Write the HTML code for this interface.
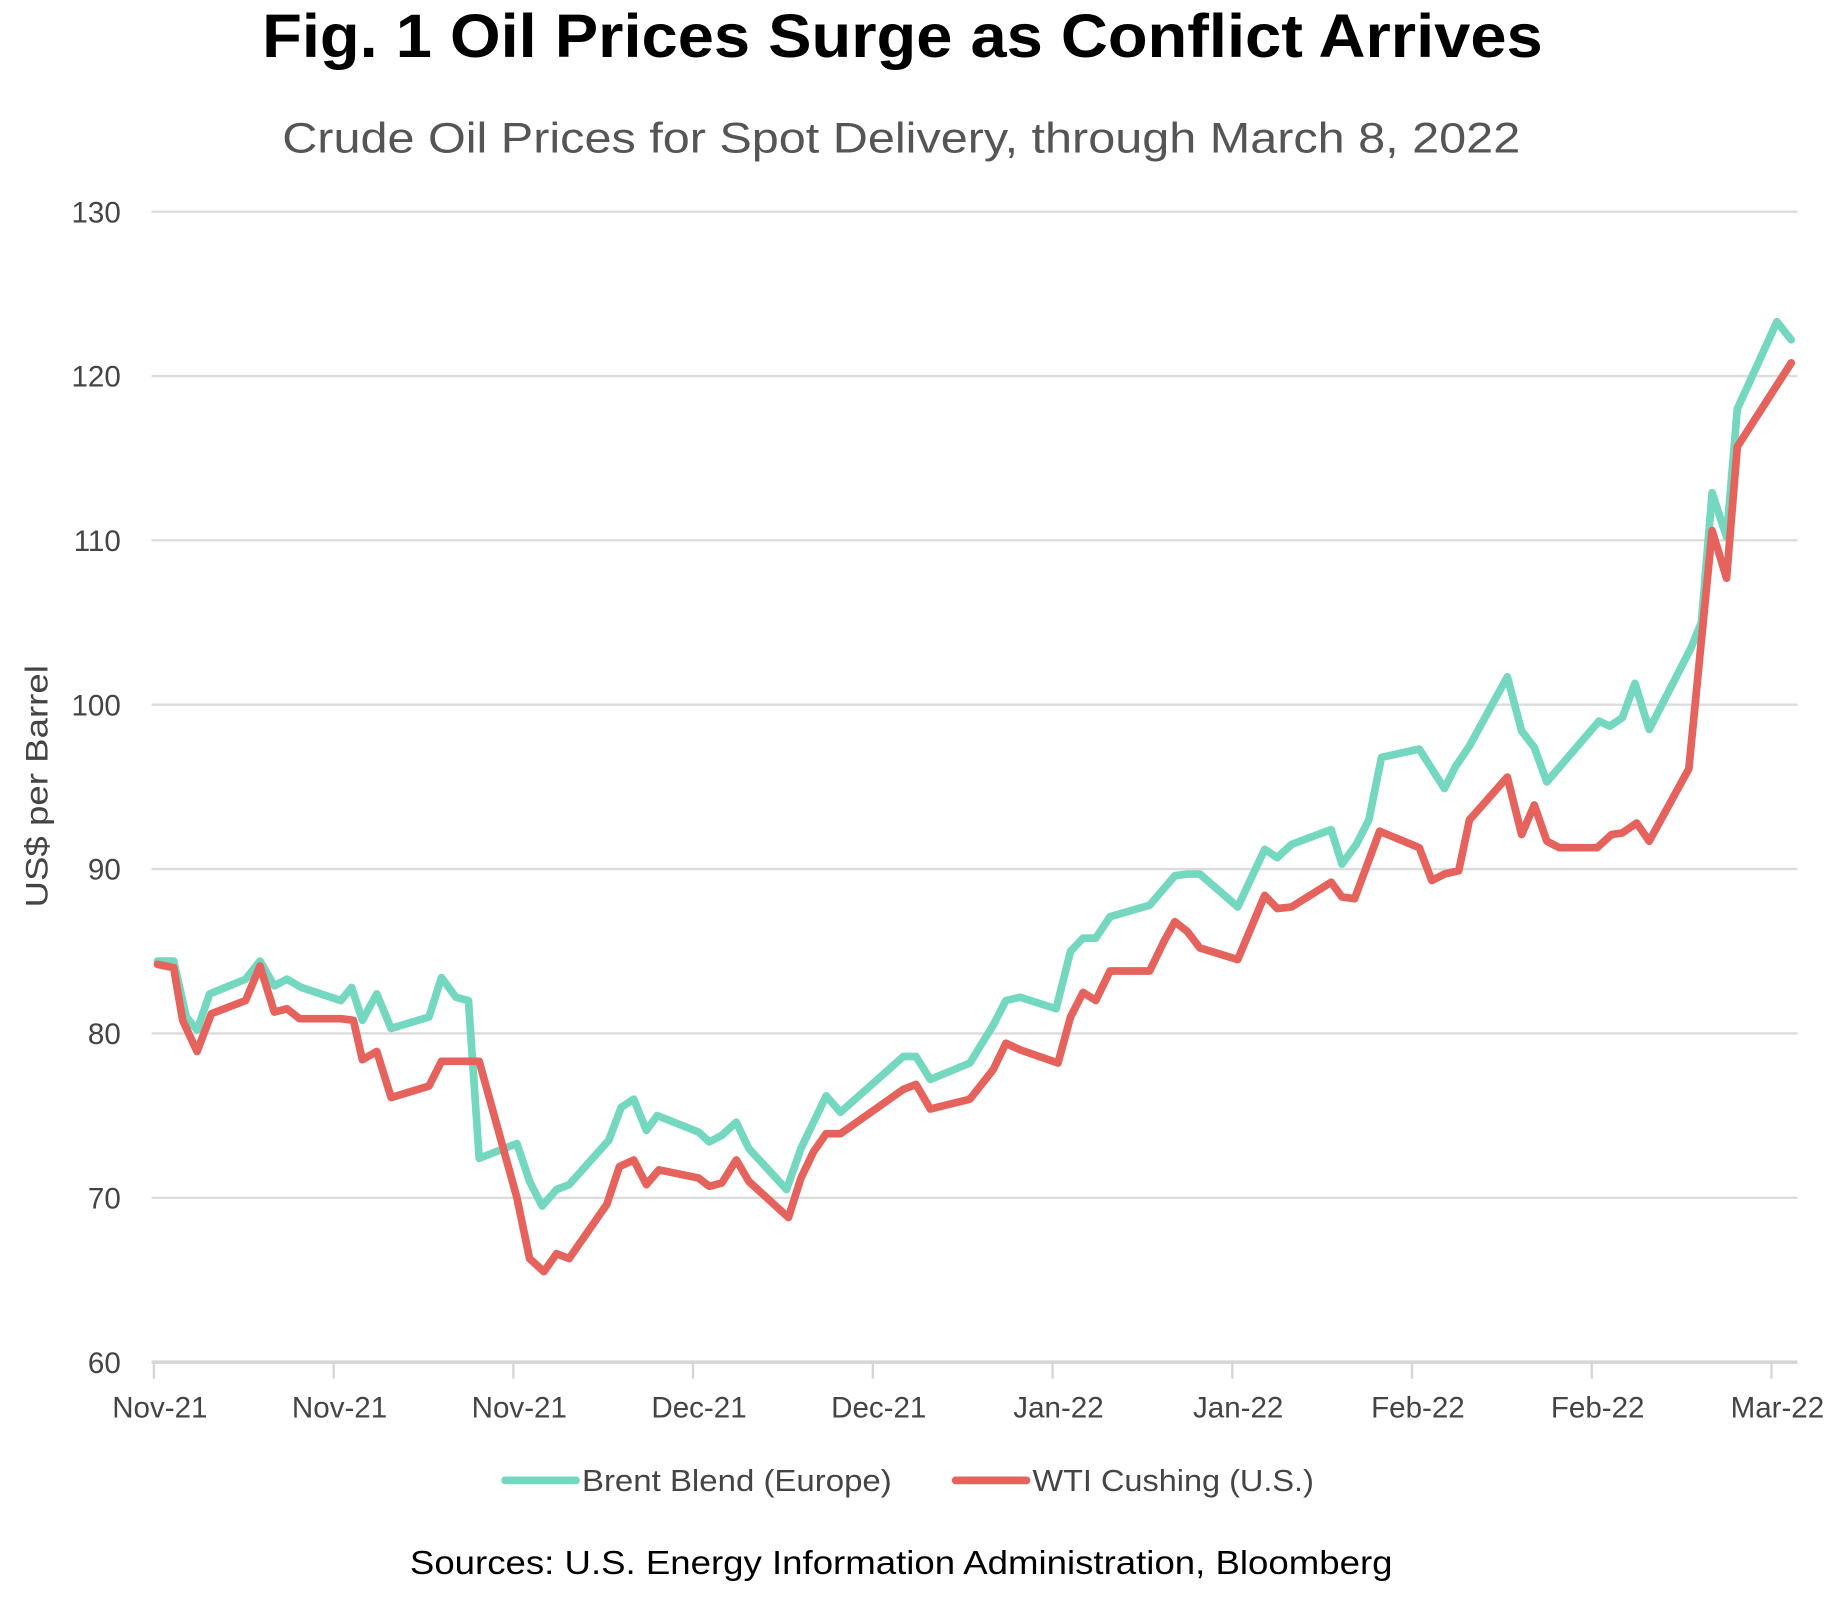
<!DOCTYPE html>
<html><head><meta charset="utf-8"><style>
html,body{margin:0;padding:0;background:#fff;}
svg{display:block;font-family:"Liberation Sans",sans-serif;}
</style></head><body>
<svg id="chart" width="1845" height="1601" viewBox="0 0 1560 1354" xmlns="http://www.w3.org/2000/svg">
<text x="763" y="48" text-anchor="middle" font-size="52" font-weight="bold" fill="#000" textLength="1083" lengthAdjust="spacingAndGlyphs">Fig. 1 Oil Prices Surge as Conflict Arrives</text>
<text x="762" y="129" text-anchor="middle" font-size="36" fill="#555" textLength="1047" lengthAdjust="spacingAndGlyphs">Crude Oil Prices for Spot Delivery, through March 8, 2022</text>
<text transform="translate(40,665) rotate(-90)" text-anchor="middle" font-size="27" fill="#444" textLength="205" lengthAdjust="spacingAndGlyphs">US$ per Barrel</text>
<g id="grid"></g><g id="yticks"></g><g id="xticks"></g><g id="series"></g>
<g>
<line x1="427" y1="1252" x2="487" y2="1252" stroke="#74d8c0" stroke-width="6.5" stroke-linecap="round"/>
<text x="492" y="1261" font-size="26" fill="#444" textLength="262" lengthAdjust="spacingAndGlyphs">Brent Blend (Europe)</text>
<line x1="808" y1="1252" x2="868" y2="1252" stroke="#e6625c" stroke-width="6.5" stroke-linecap="round"/>
<text x="873" y="1261" font-size="26" fill="#444" textLength="238" lengthAdjust="spacingAndGlyphs">WTI Cushing (U.S.)</text>
</g>
<text x="762" y="1331" text-anchor="middle" font-size="28" fill="#000" textLength="831" lengthAdjust="spacingAndGlyphs">Sources: U.S. Energy Information Administration, Bloomberg</text>
</svg>
<script>
const xTickLabels = ["Nov-21","Nov-21","Nov-21","Dec-21","Dec-21","Jan-22","Jan-22","Feb-22","Feb-22","Mar-22"];
const yTickValues = [60,70,80,90,100,110,120,130];
const brentT = [0.2,1.1,1.8,2.4,3.1,5.1,5.9,6.7,7.4,8.2,10.4,11.0,11.6,12.4,13.2,15.3,16.0,16.8,17.5,18.1,20.2,20.9,21.6,22.4,23.1,25.3,26.0,26.7,27.4,28.0,30.3,30.9,31.6,32.4,33.1,35.2,36.0,37.4,38.2,41.7,42.4,43.2,45.4,46.7,47.4,48.2,50.2,51.0,51.7,52.4,53.2,55.4,56.8,57.5,58.2,60.3,61.8,62.5,63.3,65.5,66.1,66.9,67.6,68.3,70.4,71.8,72.4,73.2,75.3,76.1,76.8,77.5,80.4,81.0,81.7,82.4,83.2,85.5,86.1,86.7,87.5,88.1,90.3,91.1];
const brentValues = [84.4,84.4,81,80.2,82.4,83.3,84.4,82.9,83.3,82.8,82,82.8,80.8,82.4,80.3,81,83.4,82.2,82,72.4,73.3,71,69.5,70.5,70.8,73.5,75.5,76,74.1,75,74,73.4,73.8,74.6,73,70.5,73,76.2,75.2,78.6,78.6,77.2,78.2,80.5,82,82.2,81.5,85,85.8,85.8,87.1,87.8,89.6,89.7,89.7,87.7,91.2,90.7,91.5,92.4,90.3,91.5,93,96.8,97.3,94.9,96.2,97.5,101.7,98.4,97.4,95.3,99,98.7,99.2,101.3,98.5,103.4,105,112.9,110.2,118,123.3,122.2];
const wtiT = [0.2,1.1,1.6,2.4,3.2,5.1,5.9,6.7,7.4,8.1,10.4,11.1,11.6,12.4,13.2,15.3,16.0,18.1,20.2,20.9,21.7,22.4,23.1,25.2,25.9,26.7,27.4,28.1,30.3,30.9,31.6,32.4,33.1,35.3,36.0,36.7,37.4,38.2,41.7,42.4,43.2,45.4,46.7,47.4,48.2,50.3,51.0,51.7,52.4,53.2,55.4,56.2,56.8,57.5,58.2,60.3,61.8,62.5,63.3,65.5,66.1,66.8,68.2,70.4,71.1,71.8,72.6,73.2,75.3,76.1,76.8,77.5,78.2,80.3,81.1,81.7,82.5,83.2,85.4,86.7,87.5,88.1,91.1];
const wtiValues = [84.2,84,80.8,78.9,81.2,82,84.1,81.3,81.5,80.9,80.9,80.8,78.4,78.9,76.1,76.8,78.3,78.3,70,66.3,65.5,66.6,66.3,69.6,71.9,72.3,70.8,71.7,71.2,70.7,70.9,72.3,71,68.8,71.2,72.8,73.9,73.9,76.6,76.9,75.4,76,77.8,79.4,79,78.2,81,82.5,82,83.8,83.8,85.6,86.8,86.2,85.2,84.5,88.4,87.6,87.7,89.2,88.3,88.2,92.3,91.3,89.3,89.7,89.9,93,95.6,92.1,93.9,91.7,91.3,91.3,92.1,92.2,92.8,91.7,96.1,110.6,107.7,115.7,120.8];

const NS="http://www.w3.org/2000/svg";
const X0=130, XSTEP=15.2, Y60=1152, YPER=13.9, GX1=128, GX2=1520;
function xScale(t){return X0+t*XSTEP;}
function yScale(v){return Y60-(v-60)*YPER;}
function mk(tag,attrs,parent){const e=document.createElementNS(NS,tag);for(const k in attrs)e.setAttribute(k,attrs[k]);parent.appendChild(e);return e;}
const grid=document.getElementById('grid'), yt=document.getElementById('yticks'), xt=document.getElementById('xticks'), ser=document.getElementById('series');
yTickValues.forEach(v=>{
  const y=yScale(v);
  const l=mk('line',{x1:GX1,x2:GX2,y1:y,y2:y,stroke:v===60?'#d6d6d6':'#dcdcdc','stroke-width':v===60?3:2},grid);
  
  
  const t=mk('text',{x:102,y:y+9,'text-anchor':'end','font-size':25,fill:'#444'},yt);
  t.textContent=v;
  
  
});
xTickLabels.forEach((lab,i)=>{
  const x=xScale(i*10);
  const l=mk('line',{x1:x,x2:x,y1:1152,y2:1166,stroke:'#d6d6d6','stroke-width':2},xt);
  
  
  const t=mk('text',{x:x+5,y:1199,'text-anchor':'middle','font-size':25,fill:'#444'},xt);
  t.textContent=lab;
  
  
});
function drawLine(ts,vals,color,name){
  const d=ts.map((t,i)=>(i?'L':'M')+xScale(t).toFixed(1)+','+yScale(vals[i]).toFixed(1)).join(' ');
  const p=mk('path',{d:d,fill:'none',stroke:color,'stroke-width':6.5,'stroke-linejoin':'round','stroke-linecap':'round'},ser);
  
  
}
drawLine(brentT,brentValues,'#74d8c0','brent-line');
drawLine(wtiT,wtiValues,'#e6625c','wti-line');
</script>
</body></html>
